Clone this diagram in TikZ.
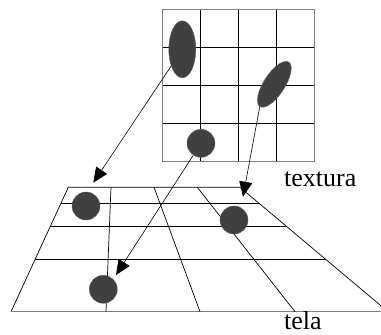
\documentclass[tikz,border=0pt]{standalone}
\usepackage{fontspec}
\setmainfont{Liberation Serif}
\usetikzlibrary{shapes.geometric,arrows.meta,calc}
\definecolor{blobfill}{HTML}{404040}
\definecolor{edgegray}{HTML}{808080}
\tikzset{
  blob/.style={fill=blobfill,draw=blobfill!85!white,line width=0.4pt,inner sep=0pt},
  dot/.style={blob,circle,minimum size=28pt},
  oval/.style={blob,ellipse},
  gridline/.style={line width=0.9pt,black},
  border/.style={line width=1.2pt,edgegray},
  floorline/.style={line width=0.7pt,black},
  maparrow/.style={line width=0.6pt,-{Triangle[length=15pt,width=13pt]}},
  lbl/.style={font=\fontsize{26}{26}\selectfont,inner sep=0pt,anchor=base west}
}
\begin{document}
\begin{tikzpicture}[x=1pt,y=-1pt]
\useasboundingbox (0,0) rectangle (381,335);
% texture grid
\foreach \i in {1,2,3}{
  \draw[gridline] (162.7+38*\i,9.3) -- (162.7+38*\i,161.7);
  \draw[gridline] (162.7,9.3+38.1*\i) -- (314.3,9.3+38.1*\i);
}
\draw[border] (162.7,9.3) rectangle (314.3,161.7);
% floor grid
\coordinate (TL) at (68.3,187.3);
\coordinate (TR) at (240,187.3);
\coordinate (BL) at (11,311.7);
\coordinate (BR) at (388,311.7);
\begin{scope}
\clip (0,0) rectangle (381,335);
\draw[floorline] (BL) -- (TL) -- (TR) -- (BR);
\foreach \t in {0.1286,0.3167,0.579}{
  \draw[floorline] ($(TL)!\t!(BL)$) -- ($(TR)!\t!(BR)$);
}
\draw[line width=1.5pt,edgegray] (BL) -- (BR);
\end{scope}
\draw[floorline] (111,187.3) -- (106,311.7);
\draw[floorline] (154,187.3) -- (200,311.7);
\draw[floorline] (197.3,187.3) -- (295,311.7);
% blobs on texture
\node[oval,minimum width=27pt,minimum height=57pt] (e1) at (182.3,49.3) {};
\node[oval,minimum width=53pt,minimum height=21pt,rotate=57] (e2) at (274.3,84.3) {};
\node[dot] (c3) at (201,143.3) {};
% blobs on floor
\node[dot] (f1) at (86,206) {};
\node[dot] (f2) at (234,220) {};
\node[dot] (f3) at (103.3,289.3) {};
% arrows
\coordinate (t1) at (93.3,182.7);
\coordinate (t2) at (243,196.7);
\coordinate (t3) at (116,275);
\draw[maparrow] (e1) -- (t1);
\draw[maparrow] (e2.west) -- (t2);
\draw[maparrow] (c3) -- (t3);
% labels
\node[lbl] (tx) at (284,186.5) {textura};
\node[lbl] (tl) at (284,329.5) {tela};
\end{tikzpicture}
\end{document}
